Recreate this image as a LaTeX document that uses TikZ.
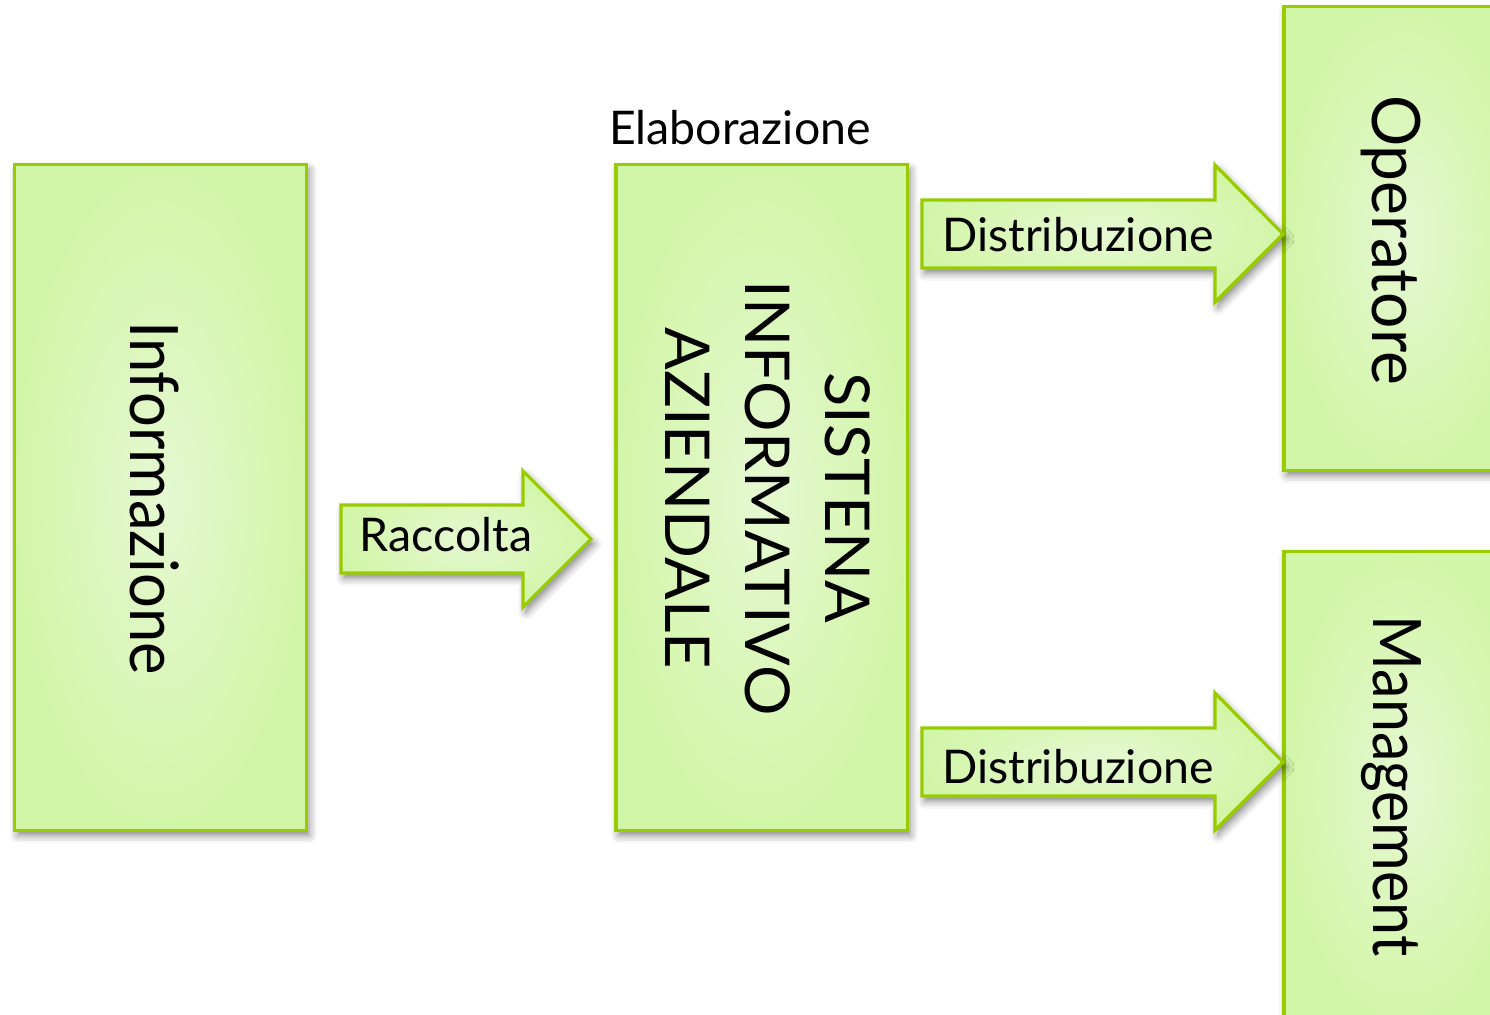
\documentclass[tikz,border=0pt]{standalone}
\usepackage{fontspec}
\setmainfont{Lato}
\newfontfamily\latonarrow[FakeStretch=0.92]{Lato}
\newfontfamily\latoop[FakeStretch=0.96]{Lato}
\newfontfamily\latomg[FakeStretch=0.885]{Lato}
\newfontfamily\latowide[FakeStretch=1.02]{Lato}
\usetikzlibrary{shadows.blur}
\definecolor{bord}{HTML}{99CC00}
\definecolor{fin}{HTML}{E6F8D2}
\definecolor{fout}{HTML}{D2F6A8}
\tikzset{
  shade/.style={draw=bord, line width=0.9pt, line join=miter, shading=radial, inner color=fin, outer color=fout,
    blur shadow={shadow xshift=0.03cm, shadow yshift=-0.05cm, shadow blur radius=0.08cm, shadow opacity=50}},
  box/.style={shade, rectangle, inner sep=0pt},
  bigtxt/.style={font=\latonarrow\fontsize{19}{23}\selectfont, rotate=-90, inner sep=0pt},
  captxt/.style={font=\latowide\fontsize{17.6}{22.8}\selectfont, rotate=-90, inner sep=0pt, align=center},
  smalltxt/.style={font=\fontsize{13.2}{15}\selectfont, inner sep=0pt},
}
\begin{document}
\begin{tikzpicture}[x=0.01cm, y=-0.01cm]
\useasboundingbox (0,0) rectangle (1490,1014);
\clip (0,0) rectangle (1490,1014);
% boxes
\node[box, minimum width=2.91cm, minimum height=6.65cm] (info) at (160.5,497.5) {};
\node[box, minimum width=2.91cm, minimum height=6.65cm] (sia) at (761.5,497.5) {};
\node[box, minimum width=2.40cm, minimum height=4.63cm] (oper) at (1404,238.5) {};
\node[box, minimum width=2.40cm, minimum height=4.70cm] (mgmt) at (1404,787) {};
% texts in boxes
\node[bigtxt] (tinfo) at (155,498) {Informazione};
\node[captxt] (tsia) at (768,498) {SISTENA\\INFORMATIVO\\AZIENDALE};
\node[bigtxt, font=\latoop\fontsize{19}{23}\selectfont] (toper) at (1391,240) {Operatore};
\node[bigtxt, font=\latomg\fontsize{19}{23}\selectfont] (tmgmt) at (1391,786) {Management};
\node[smalltxt] (tela) at (740,128) {Elaborazione};
% block arrows
\path[shade] (341,505) coordinate (r1) -- (523,505) -- (523,471) -- (591,539) coordinate (rtip) -- (523,607) -- (523,573) -- (341,573) -- cycle;
\node[smalltxt] (trac) at (446,535) {Raccolta};
\path[shade] (922,200) -- (1215,200) -- (1215,165) -- (1283,234) coordinate (d1tip) -- (1215,302) -- (1215,268) -- (922,268) -- cycle;
\node[smalltxt] (tdis1) at (1078,235) {Distribuzione};
\path[shade] (922,728) -- (1215,728) -- (1215,693) -- (1283,762) coordinate (d2tip) -- (1215,830) -- (1215,796) -- (922,796) -- cycle;
\node[smalltxt] (tdis2) at (1078,767) {Distribuzione};
\end{tikzpicture}
\end{document}
